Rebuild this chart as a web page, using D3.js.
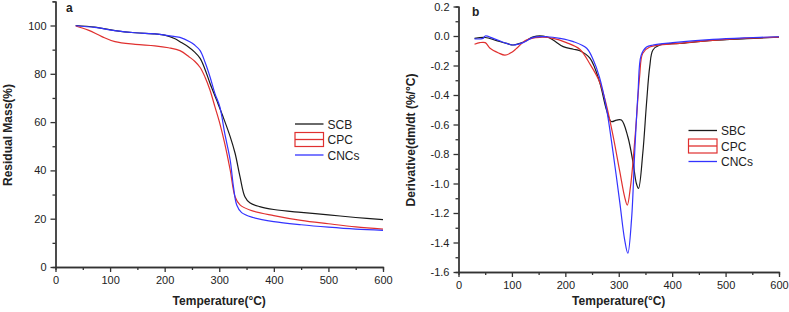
<!DOCTYPE html>
<html>
<head>
<meta charset="utf-8">
<script src="https://cdn.jsdelivr.net/npm/d3@7"></script>
<style>
  body { margin: 0; background: #fff; }
  svg text { font-family: "Liberation Sans", Arial, sans-serif; }
  .axis path, .axis line { stroke: #333; stroke-width: 1.3; }
  .axis text { font-size: 11px; fill: #222; }
</style>
</head>
<body>
<div id="chart"></div>
<script>

// ---- data ----
// panel a: TGA, residual mass (%) vs temperature
var tgaSCB = [[37,100],[72,99.3],[109,97.9],[146,97],[182,96.5],[200,96],[219,94.5],[228,93.3],[243,91.2],[255,89],[265,86.4],[274,81.8],[283,76.1],[295,69.2],[307,62.2],[320,54],[329,47.1],[338,37.4],[347,29.1],[356,26.6],[374,25],[400,23.8],[450,22.6],[500,21.6],[550,20.5],[600,19.6]];
var tgaCPC = [[37,99.8],[60,98.1],[85,95.4],[109,93.3],[146,92.2],[182,91.6],[207,90.8],[228,89.6],[245,87],[255,85.2],[265,82.6],[274,78.6],[283,73.3],[292,66.4],[301,59.5],[310,51.2],[320,40.2],[329,29.1],[338,25.7],[356,23.6],[400,21.3],[450,19.3],[500,17.9],[550,16.6],[600,15.7]];
var tgaCNC = [[37,99.9],[72,99.2],[109,97.9],[146,97],[182,96.5],[219,95.4],[228,95.1],[246,93.3],[255,91.9],[265,89.6],[274,84.8],[283,78.8],[292,71.9],[301,66.4],[310,55.4],[320,44.3],[326,33.3],[332,25.7],[341,22.5],[362,20.5],[400,18.8],[450,17.5],[500,16.5],[550,15.7],[600,15.2]];

// panel b: DTG, derivative (%/°C) vs temperature
var dtgSBC = [[30,-0.016],[50,-0.01],[70,-0.03],[90,-0.05],[102,-0.061],[115,-0.05],[127,-0.032],[140,-0.005],[165,-0.005],[177,-0.027],[196,-0.072],[215,-0.09],[227,-0.1],[246,-0.15],[264,-0.31],[277,-0.5],[286,-0.58],[296,-0.57],[305,-0.57],[317,-0.683],[327,-0.863],[333,-1.0],[337,-1.033],[345,-0.795],[352,-0.456],[358,-0.208],[364,-0.095],[377,-0.061],[414,-0.05],[476,-0.03],[540,-0.018],[600,-0.008]];
var dtgCPC = [[30,-0.056],[40,-0.045],[50,-0.045],[59,-0.083],[75,-0.115],[87,-0.13],[100,-0.11],[109,-0.083],[127,-0.027],[152,-0.009],[177,-0.016],[202,-0.045],[227,-0.09],[246,-0.19],[264,-0.31],[277,-0.47],[289,-0.67],[302,-0.92],[311,-1.09],[316,-1.146],[322,-1.02],[327,-0.84],[333,-0.57],[339,-0.276],[345,-0.117],[358,-0.075],[414,-0.05],[476,-0.03],[540,-0.015],[600,-0.008]];
var dtgCNC = [[30,-0.02],[46,-0.016],[50,0],[65,-0.016],[90,-0.05],[102,-0.061],[121,-0.045],[140,-0.009],[165,-0.005],[190,-0.016],[215,-0.038],[240,-0.083],[252,-0.16],[264,-0.28],[277,-0.49],[289,-0.78],[302,-1.13],[311,-1.38],[317,-1.473],[324,-1.24],[330,-0.78],[336,-0.39],[342,-0.13],[352,-0.075],[364,-0.061],[401,-0.045],[476,-0.023],[540,-0.012],[600,-0.005]];

// tick values
var xTicks = [0,100,200,300,400,500,600];
var xMinor = [50,150,250,350,450,550];
var massTicks = [0,20,40,60,80,100];
var massMinor = [10,30,50,70,90,110];
var derivTicks = [0.2,0.0,-0.2,-0.4,-0.6,-0.8,-1.0,-1.2,-1.4,-1.6];
var derivMinor = [0.1,-0.1,-0.3,-0.5,-0.7,-0.9,-1.1,-1.3,-1.5];

var colors = { black: "#1a1a1a", red: "#e0302f", blue: "#3333ff" };

var svg = d3.select("#chart").append("svg")
  .attr("width", 789)
  .attr("height", 312);

function drawPanel(p) {
  var x = d3.scaleLinear().domain([0, 600]).range(p.xRange);
  var y = d3.scaleLinear().domain(p.yDomain).range(p.yRange);
  var x0 = p.xRange[0], yBase = p.yRange[0];

  // minor ticks first, then the labelled axes on top
  svg.append("g").attr("class", "axis")
    .attr("transform", "translate(0," + yBase + ")")
    .call(d3.axisBottom(x).tickValues(xMinor).tickSize(3).tickFormat(""));
  svg.append("g").attr("class", "axis")
    .attr("transform", "translate(" + x0 + ",0)")
    .call(d3.axisLeft(y).tickValues(p.yMinor).tickSize(3).tickFormat(""));

  svg.append("g").attr("class", "axis")
    .attr("transform", "translate(0," + yBase + ")")
    .call(d3.axisBottom(x).tickValues(xTicks).tickSize(5).tickSizeOuter(0).tickPadding(4));
  svg.append("g").attr("class", "axis")
    .attr("transform", "translate(" + x0 + ",0)")
    .call(d3.axisLeft(y).tickValues(p.yTicks).tickSize(5).tickSizeOuter(0).tickPadding(4)
      .tickFormat(p.yFormat));

  // smooth curve through the read points
  var line = d3.line()
    .x(d => x(d[0]))
    .y(d => y(d[1]))
    .curve(d3.curveCatmullRom.alpha(0.5));

  p.series.forEach(function (s) {
    svg.append("path")
      .attr("d", line(s.data))
      .attr("fill", "none")
      .attr("stroke", s.color)
      .attr("stroke-width", 1.2);
  });

  // axis titles
  svg.append("text")
    .attr("x", (p.xRange[0] + p.xRange[1]) / 2)
    .attr("y", 305)
    .attr("text-anchor", "middle")
    .attr("font-size", 12)
    .attr("font-weight", "bold")
    .attr("fill", "#222")
    .text("Temperature(°C)");

  svg.append("text")
    .attr("transform", "translate(" + p.yTitleX + "," + p.yTitleY + ") rotate(-90)")
    .attr("text-anchor", "middle")
    .attr("font-size", 12)
    .attr("font-weight", "bold")
    .attr("fill", "#222")
    .text(p.yTitle);

  // panel letter
  svg.append("text")
    .attr("x", p.letterPos[0])
    .attr("y", p.letterPos[1])
    .attr("font-size", 12)
    .attr("font-weight", "bold")
    .attr("fill", "#222")
    .text(p.letter);

  // legend
  var lg = svg.append("g")
    .attr("transform", "translate(" + p.legendPos[0] + "," + p.legendPos[1] + ")");
  p.series.forEach(function (s, i) {
    var ly = i * 15.5;
    if (s.boxed) {
      lg.append("rect")
        .attr("x", 0).attr("y", ly - 7)
        .attr("width", 28.5).attr("height", 14)
        .attr("fill", "none")
        .attr("stroke", s.color)
        .attr("stroke-width", 1.2);
    }
    lg.append("line")
      .attr("x1", 0).attr("x2", 28.5)
      .attr("y1", ly).attr("y2", ly)
      .attr("stroke", s.color)
      .attr("stroke-width", 1.3);
    lg.append("text")
      .attr("x", 32.5)
      .attr("y", ly + 4.5)
      .attr("font-size", 12)
      .attr("fill", "#222")
      .text(s.name);
  });
}

drawPanel({
  xRange: [55.5, 383],
  yDomain: [0, 110],
  yRange: [267, 1.35],
  yTicks: massTicks,
  yMinor: massMinor,
  yFormat: d => d,
  yTitle: "Residual Mass(%)",
  yTitleX: 12, yTitleY: 135,
  letter: "a", letterPos: [66, 12],
  legendPos: [295, 124],
  series: [
    { name: "SCB", data: tgaSCB, color: colors.black },
    { name: "CPC", data: tgaCPC, color: colors.red, boxed: true },
    { name: "CNCs", data: tgaCNC, color: colors.blue }
  ]
});

drawPanel({
  xRange: [458.5, 779],
  yDomain: [-1.6, 0.2],
  yRange: [272, 6.5],
  yTicks: derivTicks,
  yMinor: derivMinor,
  yFormat: d => d.toFixed(1),
  yTitle: "Derivative(dm/dt (%/°C)",
  yTitleX: 415, yTitleY: 140,
  letter: "b", letterPos: [472, 16],
  legendPos: [688.5, 130.5],
  series: [
    { name: "SBC", data: dtgSBC, color: colors.black },
    { name: "CPC", data: dtgCPC, color: colors.red, boxed: true },
    { name: "CNCs", data: dtgCNC, color: colors.blue }
  ]
});

</script>
</body>
</html>
